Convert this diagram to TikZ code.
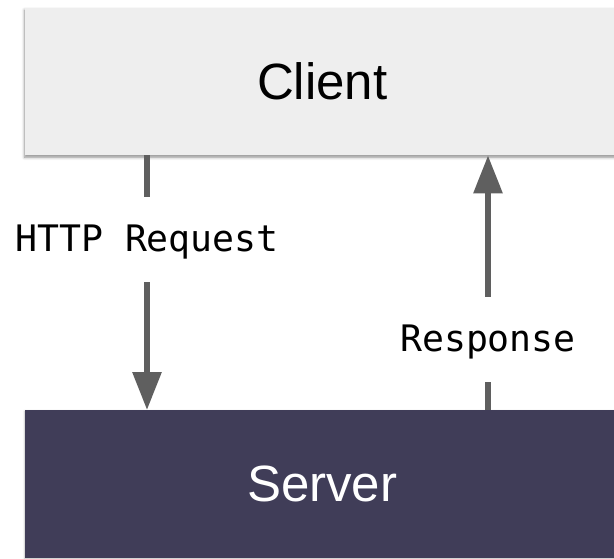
\documentclass[tikz,border=0pt]{standalone}
\usepackage{fontspec}
\setmainfont{Liberation Sans}
\setmonofont{DejaVu Sans Mono}
\definecolor{mygray}{RGB}{238, 238, 238}
\definecolor{mydark}{RGB}{64, 61, 88}
\definecolor{myarrow}{RGB}{95, 95, 95}
\usetikzlibrary{arrows.meta, positioning, shadows.blur}

\begin{document}
\begin{tikzpicture}[x = 1pt, y = 1pt,
	box/.style = {rectangle, inner sep = 0pt, minimum width = 594pt, minimum height = 147pt, anchor = north west},
	boxtext/.style = {font = \fontsize{51}{60}\selectfont},
	msg/.style = {font = \ttfamily\fontsize{36.5}{44}\selectfont, inner sep = 0pt, text height = 55pt, text depth = 30pt, anchor = base},
	link/.style = {line width = 6pt, myarrow},
	flow/.style = {link, -{Triangle[width = 28pt, length = 38pt]}}
]
	\useasboundingbox (0, 0) rectangle (614, -559);

	\node[box, fill = mygray, blur shadow = {shadow xshift = -0.5pt, shadow yshift = -2pt, shadow blur radius = 3pt, shadow opacity = 45}] (client) at (25, -8) {};
	\node[box, fill = mydark, minimum height = 148pt, blur shadow = {shadow xshift = -0.5pt, shadow yshift = -1pt, shadow blur radius = 2pt, shadow opacity = 25}] (server) at (25, -410) {};
	\node[boxtext] (clienttext) at (client.center) {Client};
	\node[boxtext, white] (servertext) at (server.center) {Server};

	\node[msg] (request) at (147, -252) {HTTP Request};
	\node[msg] (response) at (488, -352) {Response};

	\draw[link] (request |- client.south) -- (request);
	\draw[flow] (request) -- (request |- server.north);
	\draw[link] (response |- server.north) -- (response);
	\draw[flow] (response) -- (response |- client.south);
\end{tikzpicture}
\end{document}
